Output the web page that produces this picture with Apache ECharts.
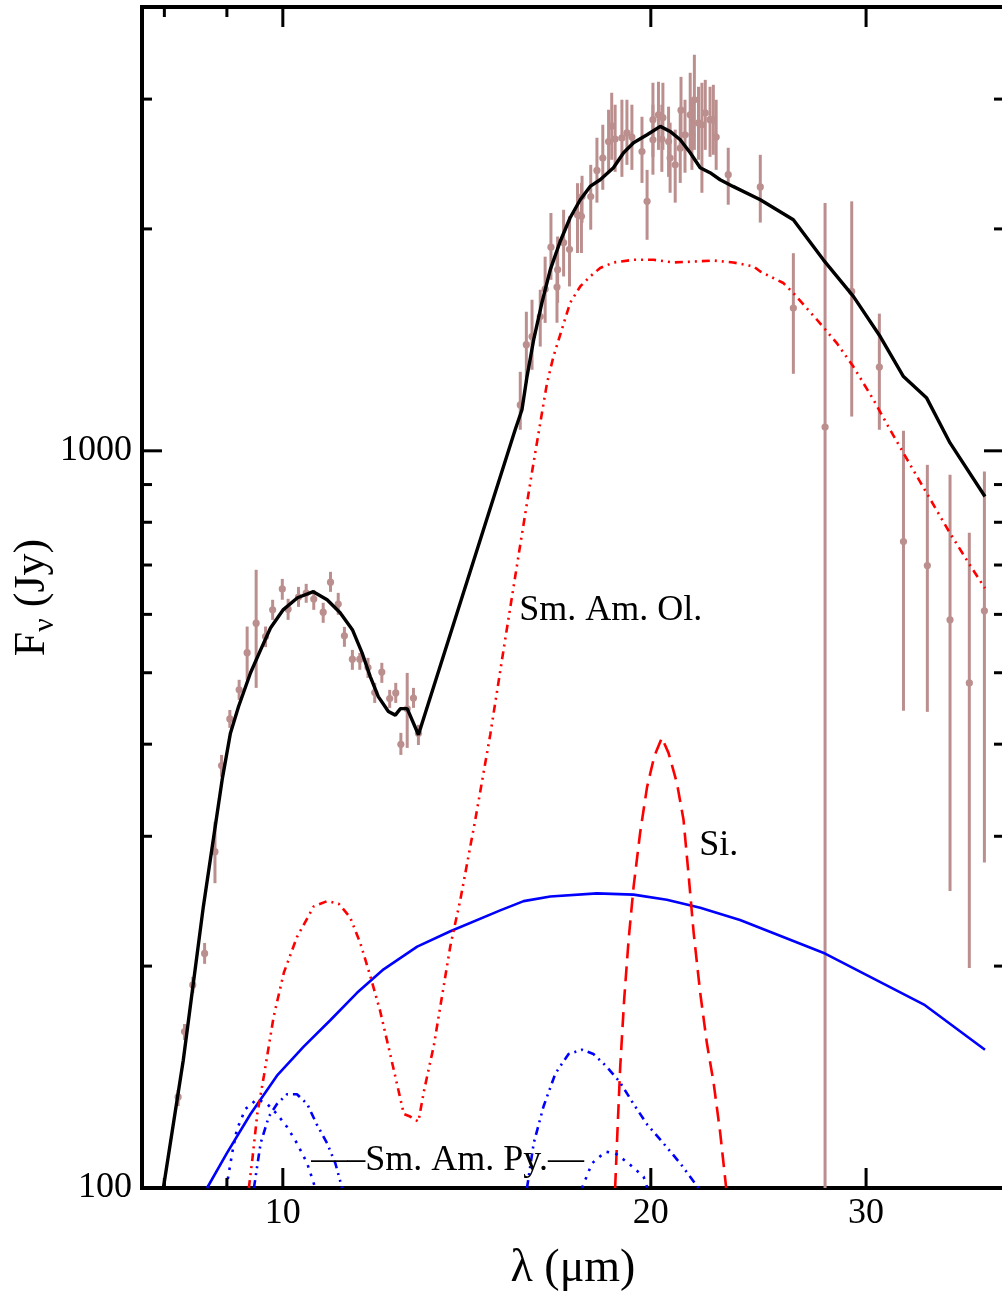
<!DOCTYPE html>
<html>
<head>
<meta charset="utf-8">
<title>Spectral energy distribution</title>
<script src="https://cdn.jsdelivr.net/npm/echarts@6.0.0/dist/echarts.min.js"></script>
<style>
  html, body { margin: 0; padding: 0; background: #ffffff; }
  #chart { width: 1002px; height: 1298px; }
</style>
</head>
<body>
<div id="chart"></div>
<script>
// Axis extents (wavelength in micron, flux density in Jy), both logarithmic
const xRange = [7.67, 38.9];
const yRange = [100, 4000];
const xMajorTicks = [10, 20, 30];
const xMinorTicks = [8, 9];
const yMajorTicks = [100, 1000];
const yMinorTicks = [200, 300, 400, 500, 600, 700, 800, 900, 2000, 3000];

// Measured fluxes: [wavelength, flux, lower, upper]
const observed = [
  [8.21, 132.9, 129.2, 135.8], [8.31, 163.0, 158.8, 166.9], [8.44, 188.6, 183.9, 193.4],
  [8.63, 208.1, 201.4, 215.0], [8.80, 285.9, 259.1, 313.8], [8.91, 374.1, 361.2, 386.8],
  [9.05, 432.8, 420.9, 445.1], [9.21, 474.0, 459.4, 489.1], [9.35, 532.4, 489.1, 577.6],
  [9.51, 583.8, 476.9, 689.6], [9.68, 559.9, 541.7, 577.6], [9.81, 608.5, 589.8, 628.0],
  [9.99, 649.7, 628.0, 670.3], [10.10, 609.8, 589.8, 629.9], [10.30, 633.2, 614.2, 653.8],
  [10.45, 641.2, 622.1, 660.0], [10.60, 629.3, 608.5, 647.6], [10.79, 604.1, 584.4, 622.1],
  [10.94, 663.5, 643.7, 685.3], [11.10, 619.6, 599.2, 641.7], [11.23, 561.1, 542.2, 577.0],
  [11.40, 521.7, 504.6, 537.0], [11.56, 521.7, 504.6, 532.0], [11.74, 508.2, 492.0, 523.8],
  [11.89, 469.9, 455.0, 484.4], [12.05, 501.0, 484.4, 515.7], [12.23, 461.3, 448.0, 474.0],
  [12.37, 469.5, 455.0, 484.4], [12.49, 399.9, 386.8, 414.4], [12.64, 446.7, 395.4, 499.7],
  [12.79, 461.9, 448.0, 476.9], [12.91, 414.0, 399.0, 424.9],
  [15.64, 1154, 1068, 1280], [15.82, 1393, 1237, 1544], [15.99, 1429, 1288, 1603],
  [16.24, 1521, 1385, 1654], [16.39, 1657, 1491, 1834], [16.57, 1889, 1706, 2102],
  [16.78, 1761, 1588, 1953], [16.76, 1668, 1492, 1844], [16.97, 1916, 1724, 2123],
  [17.16, 1877, 1671, 2080], [17.42, 2091, 1855, 2307], [17.55, 2080, 1855, 2309],
  [17.57, 2213, 2039, 2361], [17.86, 2213, 1995, 2443], [18.07, 2401, 2171, 2659],
  [18.27, 2495, 2260, 2769], [18.47, 2628, 2384, 2902], [18.58, 2759, 2482, 3060],
  [18.70, 2648, 2390, 2948], [18.94, 2657, 2353, 2994], [19.12, 2699, 2443, 2994],
  [19.30, 2665, 2405, 2948], [19.67, 2547, 2309, 2839], [19.86, 2180, 1933, 2405],
  [20.08, 2813, 2505, 3157], [20.08, 2642, 2369, 2948], [20.29, 2857, 2560, 3167],
  [20.46, 2831, 2560, 3157], [20.42, 2648, 2390, 2948], [20.68, 2628, 2353, 2930],
  [20.74, 2495, 2239, 2787], [20.94, 2443, 2171, 2727], [21.17, 2898, 2584, 3216],
  [21.14, 2574, 2309, 2875], [21.33, 2684, 2384, 2994], [21.54, 2857, 2537, 3257],
  [21.61, 2684, 2405, 2994], [21.71, 2994, 2560, 3446], [21.88, 2785, 2482, 3118],
  [22.02, 2769, 2239, 3157], [22.16, 2873, 2560, 3186], [22.36, 2813, 2505, 3118],
  [22.50, 2813, 2521, 3137], [22.62, 2665, 2405, 2994],
  [23.14, 2369, 2157, 2577], [24.58, 2280, 2040, 2521], [26.16, 1562, 1272, 1854],
  [27.77, 1077, 100, 2169], [29.20, 1645, 1113, 2180], [30.76, 1299, 1068, 1535],
  [32.19, 753.4, 443.9, 1065], [33.67, 698.9, 442.5, 957.2], [35.14, 589.8, 252.9, 927.8],
  [36.44, 484.4, 198.8, 774.1], [37.49, 606.6, 276.4, 937.4]
];

// Total model spectrum
const modelTotal = [
  [7.985, 100], [8.29, 149], [8.61, 241], [8.92, 358], [9.06, 414], [9.20, 450],
  [9.41, 500], [9.59, 537], [9.77, 575], [10.01, 609], [10.28, 632], [10.59, 644],
  [10.87, 628], [11.14, 603], [11.40, 572], [11.61, 532], [11.79, 494], [11.97, 464],
  [12.20, 443], [12.36, 438], [12.48, 447], [12.64, 447], [12.91, 412], [15.49, 1068],
  [15.69, 1137], [15.84, 1261], [16.04, 1415], [16.29, 1588], [16.55, 1761], [16.86, 1923],
  [17.18, 2071], [17.51, 2191], [17.84, 2284], [18.18, 2332], [18.64, 2421], [19.00, 2537],
  [19.36, 2618], [19.86, 2684], [20.36, 2755], [20.74, 2712], [21.14, 2642], [21.54, 2537],
  [21.95, 2421], [22.36, 2384], [22.79, 2332], [23.35, 2284], [24.58, 2191], [26.16, 2058],
  [27.68, 1816], [29.29, 1620], [30.81, 1429], [32.19, 1261], [33.63, 1179], [35.14, 1025],
  [37.53, 867]
];

// Small amorphous olivine component
const smAmOlivine = [
  [9.38, 100], [9.44, 109], [9.53, 126], [9.65, 142], [9.83, 171], [10.02, 196],
  [10.27, 219], [10.60, 241], [10.87, 245], [11.11, 243], [11.35, 233], [11.57, 215],
  [11.79, 194], [12.01, 174], [12.24, 152], [12.48, 132], [12.56, 126], [12.71, 125],
  [12.91, 123], [13.04, 135], [13.29, 156], [13.54, 188], [13.71, 213], [13.97, 246],
  [14.37, 316], [14.78, 412], [15.20, 554], [15.64, 746], [16.00, 942], [16.24, 1091],
  [16.45, 1237], [16.65, 1343], [16.91, 1459], [17.18, 1588], [17.51, 1671], [17.84, 1724],
  [18.18, 1770], [18.64, 1801], [19.36, 1816], [20.10, 1816], [20.87, 1801], [21.68, 1806],
  [22.50, 1812], [23.36, 1801], [24.27, 1779], [24.58, 1751], [25.67, 1689], [26.16, 1637],
  [27.35, 1506], [28.39, 1400], [29.29, 1301], [30.42, 1173], [31.39, 1068], [32.19, 993],
  [33.63, 876], [35.14, 773], [36.48, 700], [37.53, 651]
];

// Silica band
const silica = [
  [18.70, 100], [18.78, 119], [18.88, 146], [19.02, 180], [19.18, 217], [19.36, 256],
  [19.60, 303], [19.86, 350], [20.13, 385], [20.42, 408], [20.68, 389], [21.01, 354],
  [21.27, 316], [21.47, 267], [21.68, 222], [21.95, 184], [22.23, 157], [22.51, 139],
  [22.79, 119], [23.05, 100]
];

// Continuum component
const continuum = [
  [8.67, 100], [9.00, 111.5], [9.41, 126], [9.89, 142], [10.40, 155.5], [10.94, 169],
  [11.50, 184], [12.09, 198], [12.88, 212.5], [13.71, 223], [15.06, 238], [15.74, 245],
  [16.55, 248.5], [18.07, 251], [19.36, 250], [20.61, 246], [21.95, 240], [23.66, 231],
  [27.77, 208], [33.52, 177], [37.53, 154]
];

// Small amorphous pyroxene, 10 and 18 micron bands
const smAmPyroxene10 = [
  [9.47, 100], [9.59, 115], [9.74, 125], [9.89, 130], [10.08, 134], [10.27, 134],
  [10.47, 130], [10.66, 122], [10.87, 115], [11.04, 108], [11.18, 100]
];
const smAmPyroxene18 = [
  [15.84, 100], [16.04, 115], [16.34, 129], [16.71, 143], [17.13, 152], [17.57, 154],
  [17.95, 152], [18.41, 146], [18.88, 139], [19.36, 130], [19.86, 122], [20.48, 115],
  [21.14, 108], [21.88, 100]
];

// Minor dust component, 10 and 18 micron bands
const minorDust10 = [
  [8.99, 100], [9.09, 111.5], [9.17, 120], [9.32, 128], [9.53, 132], [9.71, 130],
  [9.89, 126], [10.08, 121], [10.27, 115], [10.47, 108], [10.63, 100]
];
const minorDust18 = [
  [17.57, 100], [17.90, 108], [18.36, 112], [18.70, 111.5], [19.18, 108], [19.73, 103.6],
  [19.87, 100]
];

const SERIF = "'Liberation Serif', 'Times New Roman', Times, serif";
const dashDotDot = [8, 5, 2, 5, 2, 5];

function curve(name, data, color, width, dash, z) {
  return {
    type: 'line', name, data, showSymbol: false, symbol: 'none', smooth: false,
    clip: true, z: z || 3,
    lineStyle: { color, width, type: dash || 'solid', cap: 'butt' }
  };
}

function textMark(text, coord) {
  return {
    symbol: 'circle', symbolSize: 0, silent: true, animation: false,
    data: [{
      coord,
      label: {
        show: true, position: 'right', distance: 0, formatter: text,
        color: '#000', fontFamily: SERIF, fontSize: 36
      }
    }]
  };
}

const xTickData = xMinorTicks.map(v => [v, yRange[0], 0]).concat(xMajorTicks.map(v => [v, yRange[0], 1]));
const yTickData = yMinorTicks.map(v => [xRange[0], v, 0]).concat(yMajorTicks.map(v => [xRange[0], v, 1]));

const chart = echarts.init(document.getElementById('chart'), null, { renderer: 'canvas' });

const olivineSeries = curve('Sm. Am. Ol.', smAmOlivine, '#ff0000', 2.6, dashDotDot);
olivineSeries.markPoint = textMark('Sm. Am. Ol.', [15.61, 607]);
const silicaSeries = curve('Si.', silica, '#ff0000', 2.6, [15, 8]);
silicaSeries.markPoint = textMark('Si.', [21.91, 291]);
const pyro10Series = curve('Sm. Am. Py.', smAmPyroxene10, '#0000ff', 2.6, dashDotDot);
pyro10Series.markPoint = textMark('\u2014\u2013Sm. Am. Py.\u2014', [10.55, 108.8]);

chart.setOption({
  animation: false,
  backgroundColor: '#ffffff',
  grid: {
    left: 142, top: 7, width: 862, height: 1181,
    containLabel: false, outerBoundsMode: 'none',
    show: true, borderColor: '#000', borderWidth: 4, backgroundColor: 'transparent'
  },
  xAxis: {
    type: 'log', logBase: 10, min: xRange[0], max: xRange[1],
    axisLine: { show: false }, axisTick: { show: false },
    splitLine: { show: false }, minorTick: { show: false },
    axisLabel: {
      customValues: xMajorTicks, formatter: v => String(Math.round(v)),
      color: '#000', fontFamily: SERIF, fontSize: 36, margin: 8
    },
    name: '\u03bb (\u03bcm)', nameLocation: 'middle', nameGap: 58, nameMoveOverlap: false,
    nameTextStyle: { color: '#000', fontFamily: SERIF, fontSize: 46 }
  },
  yAxis: {
    type: 'log', logBase: 10, min: yRange[0], max: yRange[1],
    axisLine: { show: false }, axisTick: { show: false },
    splitLine: { show: false }, minorTick: { show: false },
    axisLabel: {
      customValues: yMajorTicks, formatter: v => String(Math.round(v)),
      color: '#000', fontFamily: SERIF, fontSize: 36, margin: 10
    },
    name: '{f|F}{s|\u03bd}{f| (Jy)}', nameLocation: 'middle', nameGap: 82, nameRotate: 90,
    nameMoveOverlap: false,
    nameTextStyle: {
      color: '#000', fontFamily: SERIF, fontSize: 44,
      rich: {
        f: { color: '#000', fontFamily: SERIF, fontSize: 44, lineHeight: 56 },
        s: { color: '#000', fontFamily: SERIF, fontSize: 30, lineHeight: 30, verticalAlign: 'bottom' }
      }
    }
  },
  series: [
    {
      type: 'custom', name: 'observed', data: observed, clip: true, z: 2,
      encode: { x: 0, y: [1, 2, 3] },
      renderItem: (params, api) => {
        const x = api.value(0);
        const p = api.coord([x, api.value(1)]);
        const lo = api.coord([x, api.value(2)]);
        const hi = api.coord([x, api.value(3)]);
        return {
          type: 'group',
          children: [
            { type: 'line', shape: { x1: p[0], y1: lo[1], x2: p[0], y2: hi[1] },
              style: { stroke: '#bc8f8f', lineWidth: 3 } },
            { type: 'circle', shape: { cx: p[0], cy: p[1], r: 3.6 },
              style: { fill: '#bc8f8f' } }
          ]
        };
      }
    },
    curve('continuum', continuum, '#0000ff', 2.6),
    olivineSeries,
    silicaSeries,
    pyro10Series,
    curve('Sm. Am. Py. 18', smAmPyroxene18, '#0000ff', 2.6, dashDotDot),
    curve('minor 10', minorDust10, '#0000ff', 2.6, [2.6, 6.5]),
    curve('minor 18', minorDust18, '#0000ff', 2.6, [2.6, 6.5]),
    curve('model', modelTotal, '#000000', 3.4, 'solid', 4),
    {
      // wavelength ticks on bottom and top edges
      type: 'custom', name: 'xticks', data: xTickData, z: 6, silent: true,
      encode: { x: 0, y: 1 },
      renderItem: (params, api) => {
        const cs = params.coordSys;
        const px = api.coord([api.value(0), api.value(1)])[0];
        const len = api.value(2) ? 20 : 10;
        const st = { stroke: '#000', lineWidth: 3 };
        return {
          type: 'group',
          children: [
            { type: 'line', shape: { x1: px, y1: cs.y + cs.height, x2: px, y2: cs.y + cs.height - len }, style: st },
            { type: 'line', shape: { x1: px, y1: cs.y, x2: px, y2: cs.y + len }, style: st }
          ]
        };
      }
    },
    {
      // flux ticks on left and right edges
      type: 'custom', name: 'yticks', data: yTickData, z: 6, silent: true,
      encode: { x: 0, y: 1 },
      renderItem: (params, api) => {
        const cs = params.coordSys;
        const py = api.coord([api.value(0), api.value(1)])[1];
        const len = api.value(2) ? 20 : 10;
        const st = { stroke: '#000', lineWidth: 3 };
        return {
          type: 'group',
          children: [
            { type: 'line', shape: { x1: cs.x, y1: py, x2: cs.x + len, y2: py }, style: st },
            { type: 'line', shape: { x1: cs.x + cs.width, y1: py, x2: cs.x + cs.width - len, y2: py }, style: st }
          ]
        };
      }
    }
  ]
});
</script>
</body>
</html>
